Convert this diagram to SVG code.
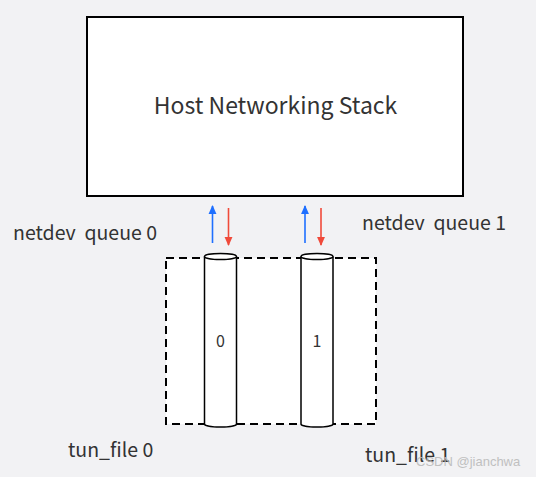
<svg xmlns="http://www.w3.org/2000/svg" width="536" height="477" viewBox="0 0 536 477">
<style>
text{font-family:"Noto Sans CJK SC","Noto Sans",sans-serif;fill:#333;white-space:pre;}
.lbl{font-size:19.5px;}
.box{fill:#fff;stroke:#000;stroke-width:2;}
.cyl{fill:#fff;stroke:#000;stroke-width:1.5;}
.up{stroke:#1e6fff;stroke-width:1.6;fill:none;}
.dn{stroke:#f04a3a;stroke-width:1.6;fill:none;}
</style>
<defs>
<marker id="ab" viewBox="0 0 10 10" refX="9" refY="5" markerWidth="5.5" markerHeight="5.5" orient="auto"><path d="M0,0.5L10,5L0,9.5z" fill="#1e6fff"/></marker>
<marker id="ar" viewBox="0 0 10 10" refX="9" refY="5" markerWidth="5.5" markerHeight="5.5" orient="auto"><path d="M0,0.5L10,5L0,9.5z" fill="#f04a3a"/></marker>
</defs>
<rect width="536" height="477" fill="#f2f2f4"/>
<g id="host">
<rect class="box" x="87" y="17" width="376" height="179"/>
<text x="275.5" y="114" font-size="23" text-anchor="middle">Host Networking Stack</text>
</g>
<g id="tun">
<rect x="166" y="258" width="210" height="166" fill="#fff" stroke="#000" stroke-width="2" stroke-dasharray="8,5"/>
</g>
<g id="queue0">
<path class="cyl" d="M204.5,256.5 V424 A16,3 0 0 0 236.5,424 V256.5"/>
<ellipse class="cyl" cx="220.5" cy="256.5" rx="16" ry="3"/>
<text x="220.5" y="347" font-size="16" text-anchor="middle">0</text>
</g>
<g id="queue1">
<path class="cyl" d="M301,256.5 V424 A16,3 0 0 0 333,424 V256.5"/>
<ellipse class="cyl" cx="317" cy="256.5" rx="16" ry="3"/>
<text x="317" y="347" font-size="16" text-anchor="middle">1</text>
</g>
<g id="connectors">
<line class="up" x1="212.5" y1="243" x2="212.5" y2="206" marker-end="url(#ab)"/>
<line class="dn" x1="228.5" y1="208" x2="228.5" y2="245" marker-end="url(#ar)"/>
<line class="up" x1="305" y1="243" x2="305" y2="206" marker-end="url(#ab)"/>
<line class="dn" x1="321" y1="208" x2="321" y2="245" marker-end="url(#ar)"/>
</g>
<g id="labels">
<text class="lbl" x="13" y="240" xml:space="preserve">netdev  queue 0</text>
<text class="lbl" x="362" y="230" xml:space="preserve">netdev  queue 1</text>
<text class="lbl" x="68" y="457">tun_file 0</text>
<text class="lbl" x="365" y="462">tun_file 1</text>
<text x="416" y="466" font-size="13" style="font-family:'Liberation Sans',sans-serif;fill:#bbb;opacity:0.9">CSDN @jianchwa</text>
</g>
</svg>
